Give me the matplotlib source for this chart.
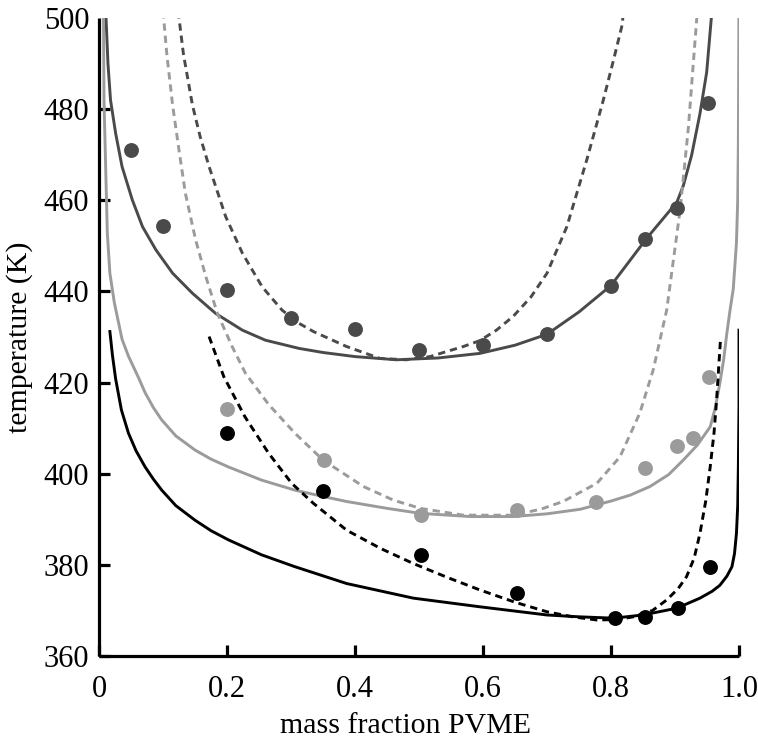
import matplotlib
matplotlib.use("Agg")
import matplotlib.pyplot as plt

plt.rcParams['font.family'] = ['Liberation Serif', 'DejaVu Serif']

DARK = '#4a4a4a'
LIGHT = '#9b9b9b'
BLACK = '#000000'

# ---- data points ----
dark_px = [0.05, 0.10, 0.20, 0.30, 0.40, 0.50, 0.60, 0.70, 0.80, 0.853, 0.903, 0.952]
dark_py = [471.0, 454.3, 440.3, 434.2, 431.8, 427.2, 428.2, 430.7, 441.3, 451.5, 458.2, 481.3]

light_px = [0.20, 0.352, 0.503, 0.653, 0.777, 0.853, 0.903, 0.928, 0.953]
light_py = [414.1, 403.0, 390.9, 392.1, 393.9, 401.2, 406.1, 407.8, 421.3]

black_px = [0.20, 0.35, 0.503, 0.653, 0.806, 0.853, 0.904, 0.954]
black_py = [409.0, 396.1, 382.2, 373.8, 368.3, 368.6, 370.5, 379.5]

# ---- curves ----
dark_solid_x = [0.0105, 0.011, 0.014, 0.018, 0.026, 0.036, 0.052, 0.068, 0.089, 0.115, 0.146, 0.182,
                0.224, 0.260, 0.3125, 0.350, 0.400, 0.465, 0.530, 0.595, 0.650, 0.700, 0.750, 0.800,
                0.856, 0.903, 0.913, 0.926, 0.939, 0.9495, 0.957, 0.958]
dark_solid_y = [505, 500.0, 490.0, 482.0, 474.7, 467.4, 460.1, 454.2, 449.1, 444.0, 439.6, 435.2,
                431.5, 429.3, 427.5, 426.6, 425.7, 425.0, 425.4, 426.4, 428.2, 430.6, 435.5, 441.3,
                451.7, 459.6, 463.2, 469.9, 479.0, 488.1, 500.4, 505]

dark_dash_x = [0.123, 0.125, 0.132, 0.146, 0.158, 0.172, 0.198, 0.224, 0.255, 0.286, 0.3125, 0.335,
               0.387, 0.439, 0.480, 0.517, 0.569, 0.595, 0.621, 0.647, 0.675, 0.700, 0.731, 0.762,
               0.788, 0.804, 0.818, 0.820]
dark_dash_y = [505, 500.0, 492.0, 480.9, 474.0, 467.4, 456.4, 448.4, 441.0, 435.9, 433.0, 431.2,
               427.9, 425.3, 425.0, 425.7, 427.9, 429.2, 431.5, 434.5, 438.8, 444.0, 454.2, 468.8,
               482.0, 490.8, 498.8, 505]

light_solid_x = [0.0065, 0.007, 0.0078, 0.0104, 0.013, 0.017, 0.024, 0.036, 0.046, 0.062, 0.072,
                 0.085, 0.098, 0.120, 0.150, 0.175, 0.202, 0.254, 0.306, 0.350, 0.387, 0.450, 0.502,
                 0.580, 0.647, 0.700, 0.752, 0.800, 0.830, 0.861, 0.890, 0.913, 0.935, 0.955, 0.963,
                 0.970, 0.976, 0.981, 0.986, 0.991, 0.996, 0.998, 0.999, 1.000]
light_solid_y = [505, 500.0, 482.0, 467.4, 452.8, 444.0, 437.5, 429.5, 425.8, 421.0, 417.8,
                 414.5, 411.8, 408.3, 405.2, 403.2, 401.5, 398.6, 396.4, 395.0, 393.9, 392.4, 391.3,
                 390.6, 390.6, 391.2, 392.2, 394.0, 395.3, 397.2, 399.8, 403.0, 406.3, 410.3, 414.5,
                 419.8, 425.0, 430.8, 435.9, 440.5, 450.6, 460.0, 472.5, 505]

light_dash_x = [0.099, 0.101, 0.106, 0.115, 0.125, 0.135, 0.151, 0.167, 0.185, 0.208, 0.229, 0.265,
                0.306, 0.350, 0.413, 0.460, 0.502, 0.569, 0.647, 0.690, 0.725, 0.778, 0.814, 0.845,
                0.866, 0.887, 0.908, 0.921, 0.929, 0.934, 0.935]
light_dash_y = [505, 500.0, 492.0, 480.9, 471.0, 461.5, 451.3, 443.2, 435.2, 427.9, 422.0, 415.2,
                408.9, 403.0, 397.2, 394.2, 392.4, 390.9, 390.9, 392.2, 393.9, 397.9, 403.7, 413.3,
                422.8, 435.9, 457.9, 476.1, 490.8, 499.9, 505]

black_solid_x = [0.017, 0.021, 0.026, 0.035, 0.046, 0.058, 0.072, 0.085, 0.098, 0.120, 0.150, 0.175,
                 0.202, 0.254, 0.306, 0.387, 0.491, 0.595, 0.700, 0.750, 0.804, 0.850, 0.903, 0.939,
                 0.958, 0.970, 0.981, 0.989, 0.993, 0.996, 0.998, 0.999, 1.000, 1.000]
black_solid_y = [431.2, 426.0, 420.8, 414.0, 408.9, 405.0, 401.5, 398.8, 396.4, 393.0, 389.8, 387.5,
                 385.5, 382.2, 379.6, 375.9, 372.7, 370.8, 369.0, 368.6, 368.3, 369.0, 370.5, 372.7,
                 374.2, 375.5, 377.5, 379.6, 382.5, 386.9, 393.0, 401.5, 415.0, 431.5]

black_dash_x = [0.172, 0.184, 0.195, 0.228, 0.265, 0.301, 0.335, 0.387, 0.440, 0.491, 0.545, 0.595,
                0.650, 0.700, 0.740, 0.778, 0.810, 0.835, 0.865, 0.887, 0.905, 0.918, 0.930, 0.939,
                0.948, 0.955, 0.961, 0.965, 0.971]
black_dash_y = [430.1, 425.5, 421.3, 412.5, 404.5, 397.9, 393.5, 387.6, 383.6, 380.3, 377.2, 374.5,
                371.8, 369.7, 368.6, 367.9, 368.0, 368.6, 370.0, 372.3, 374.8, 377.4, 381.5, 386.9,
                394.0, 401.5, 409.0, 416.2, 429.3]

xticks = [0, 0.2, 0.4, 0.6, 0.8, 1.0]
xticklabels = ['0', '0.2', '0.4', '0.6', '0.8', '1.0']
yticks = [360, 380, 400, 420, 440, 460, 480, 500]

fig = plt.figure(figsize=(7.58, 7.41), dpi=100)
ax = fig.add_axes([99/758, 1 - 656/741, 640/758, 638/741])

lw = 2.1
dash = (2.5, 1.7)
ax.plot(dark_solid_x, dark_solid_y, color=DARK, lw=lw)
ax.plot(dark_dash_x, dark_dash_y, color=DARK, lw=lw, dashes=dash)
ax.plot(light_solid_x, light_solid_y, color=LIGHT, lw=lw)
ax.plot(light_dash_x, light_dash_y, color=LIGHT, lw=lw, dashes=dash)
ax.plot(black_solid_x, black_solid_y, color=BLACK, lw=lw)
ax.plot(black_dash_x, black_dash_y, color=BLACK, lw=lw, dashes=dash)

ms = 115
ax.scatter(dark_px, dark_py, s=ms, color=DARK, zorder=3, linewidths=0)
ax.scatter(light_px, light_py, s=ms, color=LIGHT, zorder=3, linewidths=0)
ax.scatter(black_px, black_py, s=ms, color=BLACK, zorder=3, linewidths=0)

ax.set_xlim(0, 1.0)
ax.set_ylim(360, 500)
ax.set_xticks(xticks)
ax.set_xticklabels(xticklabels)
ax.set_yticks(yticks)

for s in ['top', 'right']:
    ax.spines[s].set_visible(False)
for s in ['left', 'bottom']:
    ax.spines[s].set_linewidth(2.3)
    ax.spines[s].set_capstyle('butt')

ax.tick_params(axis='both', direction='in', length=8, width=2.3, labelsize=22)
ax.tick_params(axis='x', pad=14)
ax.tick_params(axis='y', pad=7)
# the top tick mark at 500 is not drawn in the reference
ax.yaxis.get_major_ticks()[-1].tick1line.set_visible(False)

ax.set_xlabel('mass fraction PVME', fontsize=21.5, labelpad=6)
ax.xaxis.label.set_x((405 - 99) / 640)
ax.set_ylabel('temperature (K)', fontsize=21.5, labelpad=8)

fig.savefig('out.png', dpi=100)
